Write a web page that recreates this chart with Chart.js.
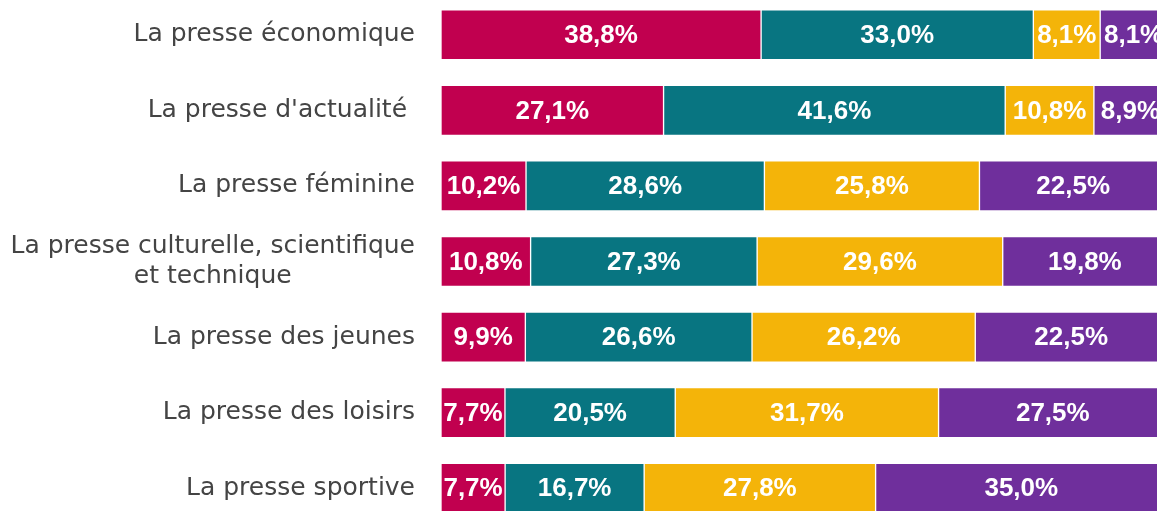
<!DOCTYPE html>
<html>
<head>
<meta charset="utf-8">
<script src="https://cdn.jsdelivr.net/npm/chart.js@4"></script>
<style>
  html, body { margin: 0; padding: 0; background: #fff; overflow: hidden; width: 1157px; height: 511px; }
  #wrap { position: absolute; left: 0; top: -3px; width: 1167px; height: 529px; }
</style>
</head>
<body>
<div id="wrap"><canvas id="chart" width="1167" height="529"></canvas></div>
<script>
// categories (label lines)
const categories = [
    ["La presse économique"],
    ["La presse d'actualité "],
    ["La presse féminine"],
    ["La presse culturelle, scientifique", "et technique"],
    ["La presse des jeunes"],
    ["La presse des loisirs"],
    ["La presse sportive"],
];

// series values (%), as printed on the bars
const serie1 = [38.8, 27.1, 10.2, 10.8, 9.9, 7.7, 7.7];
const serie2 = [33.0, 41.6, 28.6, 27.3, 26.6, 20.5, 16.7];
const serie3 = [8.1, 10.8, 25.8, 29.6, 26.2, 31.7, 27.8];
const serie4 = [8.1, 8.9, 22.5, 19.8, 22.5, 27.5, 35.0];

const colors = ["#C1004F", "#087581", "#F4B409", "#6F2F9C"];
const series = [serie1, serie2, serie3, serie4];

// each row drawn as a 100% stacked bar
const rowTotals = categories.map((c, i) => series.reduce((s, arr) => s + arr[i], 0));

const datasets = series.map((arr, k) => ({
    data: arr.map((v, i) => v / rowTotals[i] * 100),
    raw: arr,
    backgroundColor: colors[k],
    borderColor: "rgba(255,255,255,0.35)",
    borderWidth: 1,
    borderSkipped: false,
    barThickness: 50,
}));

const fmt = (v) => v.toFixed(1).replace(".", ",") + "%";

// white value labels in the middle of each segment
const valueLabels = {
    id: "valueLabels",
    afterDatasetsDraw(chart) {
        const ctx = chart.ctx;
        ctx.save();
        ctx.fillStyle = "#fff";
        ctx.font = "bold 26px 'Liberation Sans', Arial, sans-serif";
        ctx.textAlign = "center";
        ctx.textBaseline = "middle";
        chart.data.datasets.forEach((ds, k) => {
            chart.getDatasetMeta(k).data.forEach((bar, i) => {
                const cx = (bar.x + bar.base) / 2;
                ctx.fillText(fmt(ds.raw[i]), cx, bar.y + 1);
            });
        });
        ctx.restore();
    },
};

// category labels on the left, right aligned, multi-line centred in their block
const categoryLabels = {
    id: "categoryLabels",
    afterDraw(chart) {
        const ctx = chart.ctx;
        const yScale = chart.scales.y;
        const right = 415;
        const lineH = 30;
        ctx.save();
        ctx.fillStyle = "#444444";
        ctx.font = "25px 'DejaVu Sans', sans-serif";
        ctx.textBaseline = "middle";
        categories.forEach((lines, i) => {
            const y = yScale.getPixelForValue(i);
            const w = Math.max(...lines.map((l) => ctx.measureText(l).width));
            const y0 = y - (lines.length - 1) * lineH / 2;
            lines.forEach((l, j) => {
                if (lines.length > 1) {
                    ctx.textAlign = "center";
                    ctx.fillText(l, right - w / 2, y0 + j * lineH);
                } else {
                    ctx.textAlign = "right";
                    ctx.fillText(l, right, y0);
                }
            });
        });
        ctx.restore();
    },
};

new Chart(document.getElementById("chart").getContext("2d"), {
    type: "bar",
    data: {
        labels: categories.map((c) => c.join(" ")),
        datasets: datasets,
    },
    options: {
        indexAxis: "y",
        responsive: false,
        devicePixelRatio: 1,
        animation: false,
        layout: { padding: { left: 441, right: 0, top: 0, bottom: 0 } },
        plugins: {
            legend: { display: false },
            tooltip: { enabled: false },
        },
        scales: {
            x: { stacked: true, min: 0, max: 100, display: false },
            y: { stacked: true, display: false },
        },
    },
    plugins: [valueLabels, categoryLabels],
});
</script>
</body>
</html>
